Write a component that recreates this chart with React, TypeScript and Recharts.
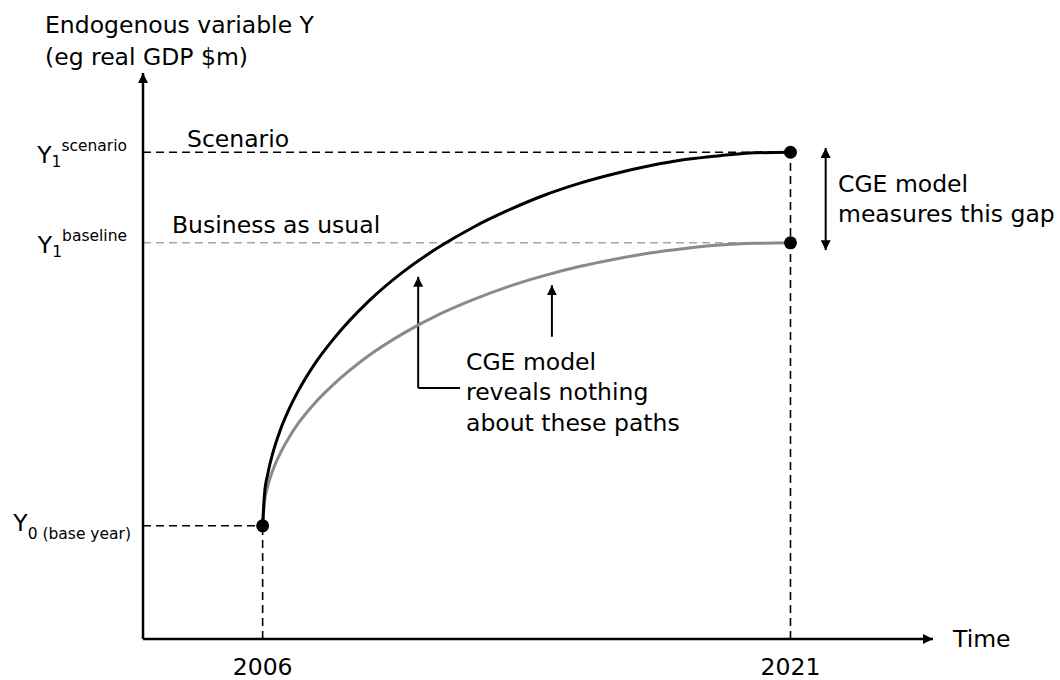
import {
  ComposedChart,
  Line,
  XAxis,
  YAxis,
  ReferenceLine,
  ReferenceDot,
} from "recharts";

// years along the path (denser near the base year where the curves rise steeply)
const years = [
  2006, 2006.05, 2006.15, 2006.3, 2006.5, 2006.75, 2007, 2007.5, 2008, 2009,
  2010, 2011, 2012, 2013, 2014, 2015, 2016, 2017, 2018, 2019, 2020, 2021,
];
const scenarioPath = [
  20, 25.4, 29.3, 33.1, 36.9, 40.6, 43.7, 48.8, 52.9, 59.6, 64.9, 69.2, 72.8,
  75.8, 78.4, 80.5, 82.2, 83.6, 84.7, 85.4, 85.9, 86,
];
const baselinePath = [
  20, 24.1, 27.1, 30, 32.8, 35.6, 38, 41.8, 44.9, 50, 54, 57.3, 60, 62.3, 64.2,
  65.8, 67.1, 68.2, 69, 69.6, 69.9, 70,
];

const baseYear = 2006;
const endYear = 2021;
const y0 = 20;
const y1Baseline = 70;
const y1Scenario = 86;

const xTicks = [2006, 2021];
const yTicks = [20, 70, 86];
const yTickSub = ["0 (base year)", "1", "1"];
const yTickSup = ["", "baseline", "scenario"];

const data = years.map((year, i) => ({
  year,
  scenario: scenarioPath[i],
  baseline: baselinePath[i],
}));

const XMIN = 2002.6;
const XMAX = 2025.05;
const FONT = 23.5;
const SMALL = 15.5;

function XTick({ x, payload }: any) {
  return (
    <text x={x} y={675} textAnchor="middle" fontSize={FONT} fill="#000">
      {payload.value}
    </text>
  );
}

function YTick({ y, payload }: any) {
  const i = yTicks.indexOf(payload.value);
  if (!yTickSup[i]) {
    return (
      <text x={131} y={y + 5} textAnchor="end" fill="#000">
        <tspan fontSize={FONT}>Y</tspan>
        <tspan fontSize={SMALL} dy={8}>
          {yTickSub[i]}
        </tspan>
      </text>
    );
  }
  return (
    <text x={127} y={y + 10.5} textAnchor="end" fill="#000">
      <tspan fontSize={FONT}>Y</tspan>
      <tspan fontSize={SMALL} dy={4}>
        {yTickSub[i]}
      </tspan>
      <tspan fontSize={SMALL} dy={-16}>
        {yTickSup[i]}
      </tspan>
    </text>
  );
}

const dash = "8 5";

export default function App() {
  return (
    <div
      style={{
        position: "absolute",
        left: 0,
        top: 0,
        width: 1060,
        height: 680,
        background: "#fff",
        fontFamily: "'DejaVu Sans', Verdana, sans-serif",
      }}
    >
      <svg width={0} height={0} style={{ position: "absolute" }}>
        <defs>
          <marker
            id="arrowHead"
            viewBox="0 0 10 10"
            refX={10}
            refY={5}
            markerWidth={10}
            markerHeight={10}
            markerUnits="userSpaceOnUse"
            orient="auto-start-reverse"
          >
            <path d="M0,0 L10,5 L0,10 Z" fill="#000" />
          </marker>
        </defs>
      </svg>

      <ComposedChart
        width={1060}
        height={680}
        data={data}
        margin={{ top: 73, right: 127, left: 0, bottom: 0 }}
      >
        <XAxis
          dataKey="year"
          type="number"
          domain={[XMIN, XMAX]}
          allowDataOverflow
          ticks={xTicks}
          interval={0}
          tickLine={false}
          height={41}
          axisLine={{
            stroke: "#000",
            strokeWidth: 2.5,
            markerEnd: "url(#arrowHead)",
          }}
          tick={(p: any) => <XTick {...p} />}
        />
        <YAxis
          type="number"
          domain={[0, 100]}
          allowDataOverflow
          ticks={yTicks}
          interval={0}
          tickLine={false}
          width={143}
          axisLine={{
            stroke: "#000",
            strokeWidth: 2.5,
            markerStart: "url(#arrowHead)",
          }}
          tick={(p: any) => <YTick {...p} />}
        />

        {/* guide lines */}
        <ReferenceLine
          segment={[
            { x: XMIN, y: y1Scenario },
            { x: endYear, y: y1Scenario },
          ]}
          stroke="#000"
          strokeWidth={1.6}
          strokeDasharray={dash}
        />
        <ReferenceLine
          segment={[
            { x: XMIN, y: y1Baseline },
            { x: endYear, y: y1Baseline },
          ]}
          stroke="#a6a6a6"
          strokeWidth={1.6}
          strokeDasharray={dash}
        />
        <ReferenceLine
          segment={[
            { x: XMIN, y: y0 },
            { x: baseYear, y: y0 },
          ]}
          stroke="#000"
          strokeWidth={1.6}
          strokeDasharray={dash}
        />
        <ReferenceLine
          segment={[
            { x: baseYear, y: 0 },
            { x: baseYear, y: y0 },
          ]}
          stroke="#000"
          strokeWidth={1.6}
          strokeDasharray={dash}
        />
        <ReferenceLine
          segment={[
            { x: endYear, y: 0 },
            { x: endYear, y: y1Scenario },
          ]}
          stroke="#000"
          strokeWidth={1.6}
          strokeDasharray={dash}
        />

        {/* annotation arrows */}
        <ReferenceLine
          segment={[
            { x: 2010.42, y: 44.35 },
            { x: 2010.42, y: 64 },
          ]}
          stroke="#000"
          strokeWidth={2}
          markerEnd="url(#arrowHead)"
        />
        <ReferenceLine
          segment={[
            { x: 2010.42, y: 44.35 },
            { x: 2011.61, y: 44.35 },
          ]}
          stroke="#000"
          strokeWidth={2}
        />
        <ReferenceLine
          segment={[
            { x: 2014.22, y: 53.4 },
            { x: 2014.22, y: 62.5 },
          ]}
          stroke="#000"
          strokeWidth={2}
          markerEnd="url(#arrowHead)"
        />
        <ReferenceLine
          segment={[
            { x: 2022.0, y: 68.7 },
            { x: 2022.0, y: 86.75 },
          ]}
          stroke="#000"
          strokeWidth={2}
          markerStart="url(#arrowHead)"
          markerEnd="url(#arrowHead)"
        />

        <Line
          type="monotone"
          dataKey="baseline"
          stroke="#8a8a8a"
          strokeWidth={3}
          dot={false}
          activeDot={false}
          isAnimationActive={false}
        />
        <Line
          type="monotone"
          dataKey="scenario"
          stroke="#000"
          strokeWidth={3}
          dot={false}
          activeDot={false}
          isAnimationActive={false}
        />

        <ReferenceDot x={baseYear} y={y0} r={6.5} fill="#000" stroke="none" />
        <ReferenceDot x={endYear} y={y1Scenario} r={6.5} fill="#000" stroke="none" />
        <ReferenceDot x={endYear} y={y1Baseline} r={6.5} fill="#000" stroke="none" />
      </ComposedChart>

      <svg
        width={1060}
        height={680}
        style={{ position: "absolute", left: 0, top: 0, pointerEvents: "none" }}
      >
        <g fontSize={FONT} fill="#000">
          <text x={45} y={33}>Endogenous variable Y</text>
          <text x={45} y={65}>(eg real GDP $m)</text>
          <text x={187} y={147}>Scenario</text>
          <text x={172} y={233}>Business as usual</text>
          <text x={838} y={192}>CGE model</text>
          <text x={838} y={222}>measures this gap</text>
          <text x={466} y={370}>CGE model</text>
          <text x={466} y={400}>reveals nothing</text>
          <text x={466} y={431}>about these paths</text>
          <text x={953} y={647}>Time</text>
        </g>
      </svg>
    </div>
  );
}
